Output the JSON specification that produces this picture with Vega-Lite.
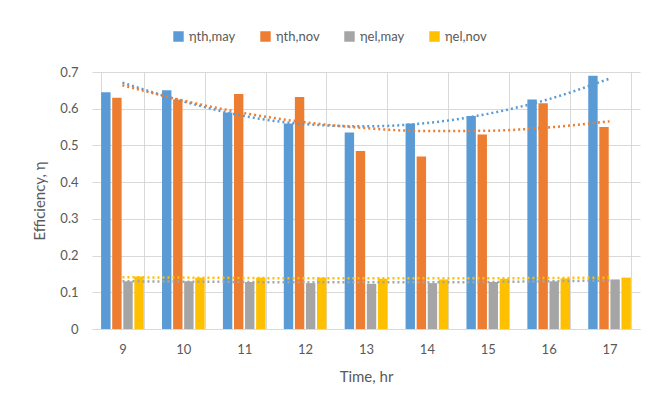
{
  "$schema": "https://vega.github.io/schema/vega-lite/v6.json",
  "width": 652,
  "height": 408,
  "autosize": {"type": "fit", "contains": "padding"},
  "padding": {"left": 32, "top": 66, "right": 12, "bottom": 24},
  "background": "white",
  "config": {
    "font": "Lato",
    "view": {"stroke": null},
    "axis": {"labelColor": "#595959", "titleColor": "#595959", "labelFontSize": 13, "titleFontSize": 15, "titleFontWeight": "normal", "gridColor": "#D9D9D9", "ticks": false, "domain": false, "labelFont": "Lato", "titleFont": "Lato"},
    "axisBand": {"grid": true},
    "legend": {"labelColor": "#595959", "labelFontSize": 13, "labelFont": "Lato"}
  },
  "datasets": {
    "bars": [
      {"hour": 9, "series": "ηth,may", "value": 0.645},
      {"hour": 9, "series": "ηth,nov", "value": 0.63},
      {"hour": 9, "series": "ηel,may", "value": 0.13},
      {"hour": 9, "series": "ηel,nov", "value": 0.143},
      {"hour": 10, "series": "ηth,may", "value": 0.65},
      {"hour": 10, "series": "ηth,nov", "value": 0.625},
      {"hour": 10, "series": "ηel,may", "value": 0.13},
      {"hour": 10, "series": "ηel,nov", "value": 0.14},
      {"hour": 11, "series": "ηth,may", "value": 0.59},
      {"hour": 11, "series": "ηth,nov", "value": 0.64},
      {"hour": 11, "series": "ηel,may", "value": 0.128},
      {"hour": 11, "series": "ηel,nov", "value": 0.14},
      {"hour": 12, "series": "ηth,may", "value": 0.56},
      {"hour": 12, "series": "ηth,nov", "value": 0.632},
      {"hour": 12, "series": "ηel,may", "value": 0.125},
      {"hour": 12, "series": "ηel,nov", "value": 0.14},
      {"hour": 13, "series": "ηth,may", "value": 0.535},
      {"hour": 13, "series": "ηth,nov", "value": 0.485},
      {"hour": 13, "series": "ηel,may", "value": 0.123},
      {"hour": 13, "series": "ηel,nov", "value": 0.137},
      {"hour": 14, "series": "ηth,may", "value": 0.56},
      {"hour": 14, "series": "ηth,nov", "value": 0.47},
      {"hour": 14, "series": "ηel,may", "value": 0.125},
      {"hour": 14, "series": "ηel,nov", "value": 0.135},
      {"hour": 15, "series": "ηth,may", "value": 0.58},
      {"hour": 15, "series": "ηth,nov", "value": 0.53},
      {"hour": 15, "series": "ηel,may", "value": 0.128},
      {"hour": 15, "series": "ηel,nov", "value": 0.137},
      {"hour": 16, "series": "ηth,may", "value": 0.625},
      {"hour": 16, "series": "ηth,nov", "value": 0.615},
      {"hour": 16, "series": "ηel,may", "value": 0.13},
      {"hour": 16, "series": "ηel,nov", "value": 0.138},
      {"hour": 17, "series": "ηth,may", "value": 0.69},
      {"hour": 17, "series": "ηth,nov", "value": 0.55},
      {"hour": 17, "series": "ηel,may", "value": 0.135},
      {"hour": 17, "series": "ηel,nov", "value": 0.14}
    ],
    "trend": [
      {"hour": 9, "series": "ηth,may", "value": 0.671},
      {"hour": 10, "series": "ηth,may", "value": 0.62},
      {"hour": 11, "series": "ηth,may", "value": 0.58},
      {"hour": 12, "series": "ηth,may", "value": 0.558},
      {"hour": 13, "series": "ηth,may", "value": 0.552},
      {"hour": 14, "series": "ηth,may", "value": 0.561},
      {"hour": 15, "series": "ηth,may", "value": 0.586},
      {"hour": 16, "series": "ηth,may", "value": 0.626},
      {"hour": 17, "series": "ηth,may", "value": 0.682},
      {"hour": 9, "series": "ηth,nov", "value": 0.664},
      {"hour": 10, "series": "ηth,nov", "value": 0.622},
      {"hour": 11, "series": "ηth,nov", "value": 0.588},
      {"hour": 12, "series": "ηth,nov", "value": 0.563},
      {"hour": 13, "series": "ηth,nov", "value": 0.547},
      {"hour": 14, "series": "ηth,nov", "value": 0.539},
      {"hour": 15, "series": "ηth,nov", "value": 0.54},
      {"hour": 16, "series": "ηth,nov", "value": 0.549},
      {"hour": 17, "series": "ηth,nov", "value": 0.566},
      {"hour": 9, "series": "ηel,may", "value": 0.13},
      {"hour": 10, "series": "ηel,may", "value": 0.129},
      {"hour": 11, "series": "ηel,may", "value": 0.128},
      {"hour": 12, "series": "ηel,may", "value": 0.127},
      {"hour": 13, "series": "ηel,may", "value": 0.127},
      {"hour": 14, "series": "ηel,may", "value": 0.127},
      {"hour": 15, "series": "ηel,may", "value": 0.128},
      {"hour": 16, "series": "ηel,may", "value": 0.13},
      {"hour": 17, "series": "ηel,may", "value": 0.132},
      {"hour": 9, "series": "ηel,nov", "value": 0.141},
      {"hour": 10, "series": "ηel,nov", "value": 0.14},
      {"hour": 11, "series": "ηel,nov", "value": 0.139},
      {"hour": 12, "series": "ηel,nov", "value": 0.138},
      {"hour": 13, "series": "ηel,nov", "value": 0.138},
      {"hour": 14, "series": "ηel,nov", "value": 0.138},
      {"hour": 15, "series": "ηel,nov", "value": 0.138},
      {"hour": 16, "series": "ηel,nov", "value": 0.139},
      {"hour": 17, "series": "ηel,nov", "value": 0.14}
    ]
  },
  "encoding": {
    "x": {"field": "hour", "type": "ordinal", "scale": {"paddingInner": 0.3, "paddingOuter": 0.15},
          "axis": {"title": "Time, hr", "labelAngle": 0, "grid": true, "gridColor": "#D9D9D9", "gridWidth": 1, "gridOpacity": 1, "tickBand": "extent", "domain": true, "domainColor": "#D9D9D9", "labelPadding": 14, "titlePadding": 13}},
    "y": {"field": "value", "type": "quantitative", "scale": {"domain": [0, 0.7], "nice": false},
          "axis": {"title": "Efficiency, η", "values": [0, 0.1, 0.2, 0.3, 0.4, 0.5, 0.6, 0.7], "format": ".1~f", "labelPadding": 14, "titlePadding": 12}},
    "color": {"field": "series", "type": "nominal",
              "scale": {"domain": ["ηth,may", "ηth,nov", "ηel,may", "ηel,nov"], "range": ["#5B9BD5", "#ED7D31", "#A5A5A5", "#FFC000"]},
              "legend": {"orient": "none", "legendX": 80, "legendY": -42, "direction": "horizontal", "title": null, "symbolType": "square", "symbolSize": 80, "columnPadding": 22}}
  },
  "layer": [
    {
      "data": {"name": "bars"},
      "mark": {"type": "bar"},
      "encoding": {
        "xOffset": {"field": "series", "type": "nominal", "sort": ["ηth,may", "ηth,nov", "ηel,may", "ηel,nov"], "scale": {"paddingInner": 0.15}}
      }
    },
    {
      "data": {"name": "trend"},
      "mark": {"type": "line", "strokeDash": [2, 3], "strokeWidth": 2.5, "interpolate": "monotone"},
      "encoding": {
        "detail": {"field": "series"}
      }
    }
  ]
}
